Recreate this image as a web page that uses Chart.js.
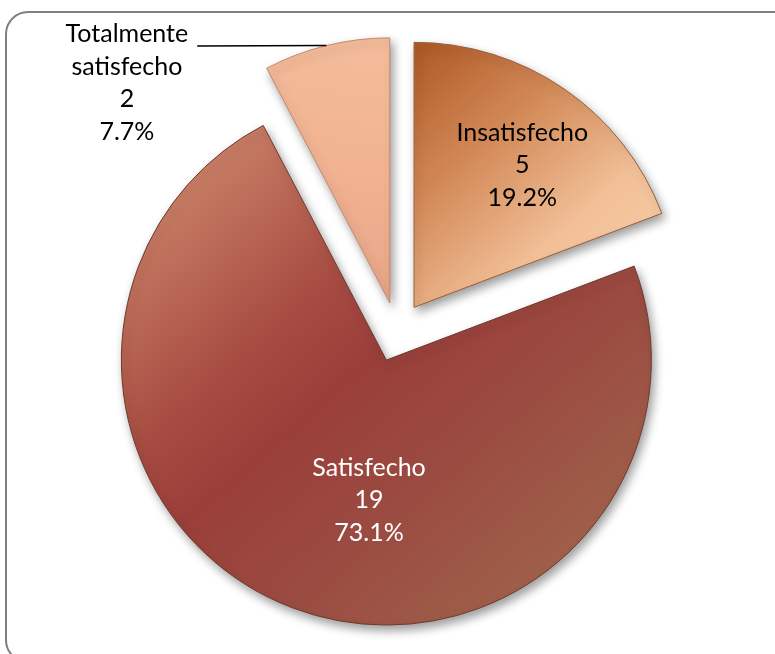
<!DOCTYPE html>
<html>
<head>
<meta charset="utf-8">
<script src="https://cdn.jsdelivr.net/npm/chart.js@4.4.1/dist/chart.umd.min.js"></script>
<style>
  html, body { margin: 0; padding: 0; background: #ffffff; }
  #wrap { width: 775px; height: 654px; position: relative; }
</style>
</head>
<body>
<div id="wrap"><canvas id="c" width="775" height="654"></canvas></div>
<script>
// ---- data ----
const categories = ['Insatisfecho', 'Satisfecho', 'Totalmente satisfecho'];
const categoryLines = [['Insatisfecho'], ['Satisfecho'], ['Totalmente', 'satisfecho']];
const counts = [5, 19, 2];
const percentLabels = ['19.2%', '73.1%', '7.7%'];

// ---- styles ----
const PIE_RADIUS = 265;
const EXPLODE = 30;
const FONT = '25px Lato, "Open Sans", sans-serif';
const LINE_H = 32.7;
const labelColors = ['#000000', '#ffffff', '#000000'];
const borderColors = ['#9a6038', '#6e3a30', '#c48a6e'];
const fallbackFill = ['#d9935f', '#9c4640', '#f0b595'];
// label placement relative to exploded slice: radius fraction and angular shift (deg) from mid-angle
const labelPlacement = [
  { r: 0.65, dAng: 4.3, leader: false },
  { r: 0.563, dAng: -14.1, leader: false },
  { r: 1.274, dAng: -37.3, leader: true }
];

function sliceFill(ctx) {
  const chart = ctx.chart;
  const ca = chart.chartArea;
  const i = ctx.dataIndex;
  if (!ca || ca.left === undefined) return fallbackFill[i];
  const cx = (ca.left + ca.right) / 2, cy = (ca.top + ca.bottom) / 2, R = PIE_RADIUS;
  const c2 = chart.ctx;
  let g;
  if (i === 0) {
    g = c2.createLinearGradient(cx, cy - R, cx + 0.78 * R, cy - 0.12 * R);
    g.addColorStop(0, '#ad5824');
    g.addColorStop(0.4, '#d38a58');
    g.addColorStop(0.78, '#f2c098');
    g.addColorStop(1, '#f5c9a3');
  } else if (i === 1) {
    g = c2.createLinearGradient(cx - 0.6 * R, cy - 0.85 * R, cx + 0.85 * R, cy + 0.8 * R);
    g.addColorStop(0, '#c97f66');
    g.addColorStop(0.3, '#a74c42');
    g.addColorStop(0.45, '#9a3e3a');
    g.addColorStop(0.7, '#9b4d42');
    g.addColorStop(1, '#a0654b');
  } else {
    g = c2.createLinearGradient(cx, cy - R, cx - 0.2 * R, cy);
    g.addColorStop(0, '#f4bd9b');
    g.addColorStop(0.5, '#f1b392');
    g.addColorStop(1, '#e8a487');
  }
  return g;
}

const framePlugin = {
  id: 'frame',
  beforeDraw(chart) {
    const c = chart.ctx;
    c.save();
    c.fillStyle = '#ffffff';
    c.fillRect(0, 0, chart.width, chart.height);
    const x = 6, y = 12, w = 790, h = 650, r = 22;
    c.beginPath();
    c.moveTo(x + r, y);
    c.lineTo(x + w - r, y);
    c.arcTo(x + w, y, x + w, y + r, r);
    c.lineTo(x + w, y + h - r);
    c.arcTo(x + w, y + h, x + w - r, y + h, r);
    c.lineTo(x + r, y + h);
    c.arcTo(x, y + h, x, y + h - r, r);
    c.lineTo(x, y + r);
    c.arcTo(x, y, x + r, y, r);
    c.closePath();
    c.strokeStyle = '#808080';
    c.lineWidth = 2;
    c.stroke();
    c.restore();
  }
};

const explodePlugin = {
  id: 'explode',
  beforeDatasetDraw(chart, args) {
    const c = chart.ctx;
    const meta = args.meta;
    c.save();
    c.shadowColor = 'rgba(0,0,0,0.38)';
    c.shadowBlur = 10;
    c.shadowOffsetX = 3;
    c.shadowOffsetY = 5;
    meta.data.forEach((arc) => {
      const mid = (arc.startAngle + arc.endAngle) / 2;
      c.save();
      c.translate(Math.cos(mid) * EXPLODE, Math.sin(mid) * EXPLODE);
      arc.draw(c);
      c.restore();
    });
    c.restore();
    return false;
  }
};

const labelPlugin = {
  id: 'sliceLabels',
  afterDatasetsDraw(chart) {
    const c = chart.ctx;
    const meta = chart.getDatasetMeta(0);
    c.save();
    c.font = FONT;
    c.textAlign = 'center';
    c.textBaseline = 'alphabetic';
    meta.data.forEach((arc, i) => {
      const mid = (arc.startAngle + arc.endAngle) / 2;
      const ex = arc.x + Math.cos(mid) * EXPLODE;
      const ey = arc.y + Math.sin(mid) * EXPLODE;
      const R = arc.outerRadius;
      const p = labelPlacement[i];
      const a = mid + p.dAng * Math.PI / 180;
      const px = ex + Math.cos(a) * p.r * R;
      const py = ey + Math.sin(a) * p.r * R;
      const lines = categoryLines[i].concat([String(counts[i]), percentLabels[i]]);
      const n = lines.length;
      c.fillStyle = labelColors[i];
      lines.forEach((t, k) => {
        c.fillText(t, px, py + (k - (n - 1) / 2) * LINE_H);
      });
      if (p.leader) {
        const endX = ex + Math.cos(mid) * R;
        const endY = ey + Math.sin(mid) * R;
        const firstW = c.measureText(lines[0]).width;
        const startX = px + firstW / 2 + 9;
        c.beginPath();
        c.moveTo(startX, endY + 0.5);
        c.lineTo(endX, endY);
        c.strokeStyle = '#000000';
        c.lineWidth = 1.6;
        c.stroke();
      }
    });
    c.restore();
  }
};

new Chart(document.getElementById('c').getContext('2d'), {
  type: 'pie',
  data: {
    labels: categories,
    datasets: [{
      data: counts,
      backgroundColor: sliceFill,
      borderColor: borderColors,
      borderWidth: 1,
      offset: 0,
      hoverOffset: 0,
      clip: false
    }]
  },
  options: {
    responsive: false,
    animation: false,
    events: [],
    radius: PIE_RADIUS,
    rotation: 0,
    layout: { padding: { left: 19, right: 0, top: 10, bottom: 0 } },
    plugins: {
      legend: { display: false },
      tooltip: { enabled: false }
    }
  },
  plugins: [framePlugin, explodePlugin, labelPlugin]
});
</script>
</body>
</html>
